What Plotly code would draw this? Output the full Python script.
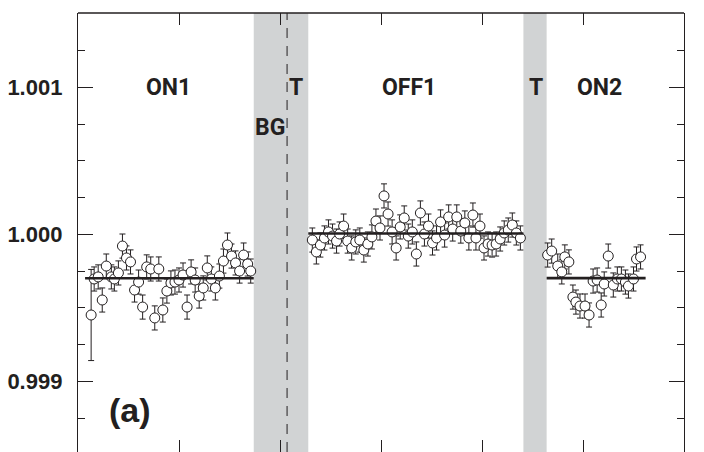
import plotly.graph_objects as go

# ---------------- data ----------------
x_on1 = [13, 16, 20, 24, 28, 33, 36, 40, 44, 48, 52, 56, 60, 64, 68, 72, 76, 80, 84, 88, 92,
         96, 100, 104, 108, 112, 116, 120, 124, 128, 132, 136, 140, 144, 148, 152, 156, 160, 164, 168, 171]
y_on1 = [0.999451, 0.999696, 0.999710, 0.999553, 0.999784, 0.999710, 0.999696, 0.999737, 0.999920,
         0.999839, 0.999812, 0.999621, 0.999675, 0.999505, 0.999778, 0.999764, 0.999431, 0.999764,
         0.999485, 0.999614, 0.999669, 0.999675, 0.999689, 0.999723, 0.999505, 0.999744, 0.999689,
         0.999580, 0.999635, 0.999771, 0.999696, 0.999635, 0.999716, 0.999818, 0.999927, 0.999852,
         0.999805, 0.999750, 0.999859, 0.999798, 0.999750]
e_on1 = [0.00031] + [0.000082] * 40

x_off1 = [232, 236, 240, 244, 248, 252, 256, 259, 263, 267, 271, 275, 279, 283, 287, 291, 295,
          299, 303, 307, 311, 315, 319, 323, 327, 331, 335, 339, 343, 347, 351, 355, 359, 363,
          367, 371, 375, 379, 383, 387, 391, 394, 398, 402, 406, 410, 414, 418, 422, 426, 430, 434, 438]
y_off1 = [0.999961, 0.999880, 0.999927, 0.999975, 1.000016, 0.999988, 0.999954, 1.000002, 1.000056,
          0.999954, 0.999907, 0.999948, 0.999961, 0.999893, 0.999934, 0.999982, 1.000090, 1.000043,
          1.000261, 1.000138, 1.000016, 0.999907, 1.000050, 1.000111, 0.999988, 1.000016, 0.999866,
          1.000145, 1.000002, 1.000056, 0.999941, 0.999975, 1.000084, 0.999995, 1.000118, 1.000036,
          1.000118, 1.000022, 1.000077, 0.999975, 1.000131, 0.999975, 1.000056, 0.999907, 0.999934,
          0.999927, 0.999934, 0.999968, 1.000009, 1.000029, 1.000063, 1.000009, 0.999975]
e_off1 = [0.000082] * 53

x_on2 = [465, 469, 475, 479, 482, 486, 490, 493, 497, 502, 506, 510, 514, 518, 521, 525, 530,
         534, 538, 542, 545, 550, 553, 557]
y_on2 = [0.999859, 0.999886, 0.999784, 0.999744, 0.999846, 0.999812, 0.999573, 0.999539, 0.999512,
         0.999512, 0.999451, 0.999682, 0.999689, 0.999519, 0.999662, 0.999852, 0.999655, 0.999696,
         0.999696, 0.999675, 0.999648, 0.999696, 0.999832, 0.999846]
e_on2 = [0.000082] * 24

# fitted levels: (x start, x end, level)
fit_on1 = ([7, 174], [0.999701, 0.999701])
fit_off1 = ([228, 441], [1.000005, 1.000005])
fit_on2 = ([464, 562], [0.999702, 0.999702])

# shaded transition bands and background marker
bands = [(174, 228), (441, 464)]
bg_line_x = 207

region_labels = ["ON1", "T", "OFF1", "T", "ON2", "BG"]
region_x = [90, 216, 328, 453, 516, 190]
region_y = [1.001, 1.001, 1.001, 1.001, 1.001, 1.000728]

y_tickvals = [0.999, 1.000, 1.001]
y_ticktext = ["0.999", "1.000", "1.001"]

# ---------------- figure ----------------
INK = "#231f20"
fig = go.Figure()

for (x0, x1) in bands:
    fig.add_shape(type="rect", xref="x", yref="paper", x0=x0, x1=x1, y0=0, y1=1,
                  fillcolor="#d1d3d4", line_width=0, layer="below")
fig.add_shape(type="line", xref="x", yref="paper", x0=bg_line_x, x1=bg_line_x, y0=0, y1=1,
              line=dict(color=INK, width=1, dash="10px,8px"), layer="below")

for xs, ys, es in [(x_on1, y_on1, e_on1), (x_off1, y_off1, e_off1), (x_on2, y_on2, e_on2)]:
    fig.add_trace(go.Scatter(
        x=xs, y=ys, mode="markers",
        marker=dict(symbol="circle", size=10, color="white", line=dict(color=INK, width=1)),
        error_y=dict(type="data", array=es, visible=True, color=INK, thickness=1, width=3),
        showlegend=False, hoverinfo="skip"))

for fx, fy in [fit_on1, fit_off1, fit_on2]:
    fig.add_trace(go.Scatter(x=fx, y=fy, mode="lines", line=dict(color=INK, width=2.6),
                             showlegend=False, hoverinfo="skip"))

cond = "Roboto, DejaVu Sans, sans-serif"
for t, xx, yy in zip(region_labels, region_x, region_y):
    fig.add_annotation(x=xx, y=yy, xref="x", yref="y", text=t, showarrow=False,
                       font=dict(family=cond, size=23, color=INK, weight="bold"))
fig.add_annotation(x=0.086, y=0.096, xref="paper", yref="paper", text="(a)", showarrow=False,
                   xanchor="center", yanchor="middle",
                   font=dict(family="Liberation Sans, Arial, sans-serif", size=34, color=INK, weight="bold"))

fig.update_xaxes(range=[0, 600], tickvals=[0, 100, 200, 300, 400, 500, 600], showticklabels=False,
                 ticks="inside", ticklen=12, tickcolor=INK, tickwidth=1,
                 showline=False, mirror="ticks", showgrid=False, zeroline=False)
fig.update_yaxes(range=[0.998519, 1.0015054], tickvals=y_tickvals, ticktext=y_ticktext,
                 ticks="inside", ticklen=15, tickcolor=INK, tickwidth=1.2,
                 minor=dict(tickvals=[0.99875, 0.99925, 0.9995, 0.99975, 1.00025, 1.0005,
                                      1.00075, 1.00125], ticks="inside", ticklen=7,
                            tickcolor=INK, tickwidth=1.2),
                 showline=True, linecolor=INK, linewidth=1.3, mirror="ticks",
                 showgrid=False, zeroline=False, ticklabelstandoff=10,
                 tickfont=dict(family="Liberation Sans, Arial, sans-serif", size=22, color=INK,
                               weight="bold"))

# top border
fig.add_shape(type="line", xref="paper", yref="paper", x0=0, x1=1, y0=1, y1=1,
              line=dict(color=INK, width=1.3))

fig.update_layout(width=704, height=452, margin=dict(l=78, r=20, t=13, b=0),
                  paper_bgcolor="white", plot_bgcolor="white")

fig.write_html("out.html")
